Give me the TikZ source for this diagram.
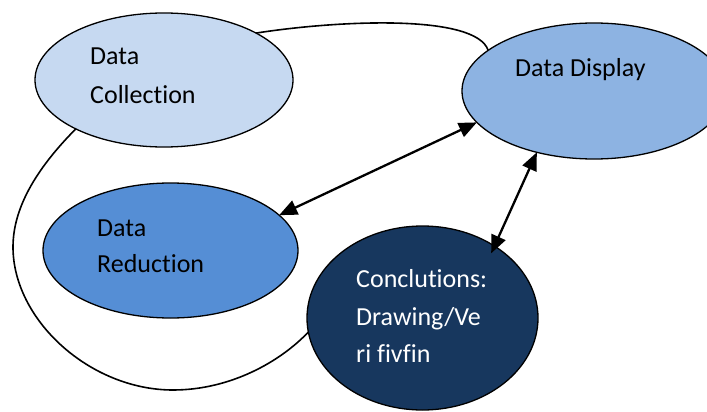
\documentclass[tikz,border=0pt]{standalone}
\usepackage{fontspec}
\setmainfont{Carlito}[Ligatures=NoCommon]
\usetikzlibrary{shapes.geometric,arrows.meta}

\definecolor{collectfill}{HTML}{C6D9F1}
\definecolor{displayfill}{HTML}{8DB3E2}
\definecolor{reducefill}{HTML}{558ED5}
\definecolor{concludefill}{HTML}{17375E}

\tikzset{
  stage/.style={ellipse, draw=black, line width=1.3pt, inner sep=0pt, outer sep=0pt},
  label text/.style={anchor=base west, inner sep=0pt, font=\fontsize{26}{30}\selectfont},
  loop line/.style={line width=1.6pt, black},
  both ways/.style={line width=2.3pt, black, {Triangle[length=18pt,width=15pt]}-{Triangle[length=18pt,width=15pt]}}
}

\begin{document}
\begin{tikzpicture}[x=1pt, y=-1pt]
\useasboundingbox (0,0) rectangle (707,412);
\clip (0,0) rectangle (707,412);

% the four stages
\node[stage, fill=collectfill, minimum width=258pt, minimum height=134pt] (collect) at (164,80) {};
\node[stage, fill=displayfill, minimum width=264pt, minimum height=136pt] (display) at (594,91) {};
\node[stage, fill=reducefill, minimum width=255pt, minimum height=135pt] (reduce) at (170.5,250.5) {};
\node[stage, fill=concludefill, minimum width=231pt, minimum height=184pt] (conclude) at (422.5,318) {};

% stage captions
\node[label text] (collectA) at (90,65) {Data};
\node[label text] (collectB) at (90,103) {Collection};
\node[label text] (displayA) at (515,77) {Data Display};
\node[label text] (reduceA) at (97,236) {Data};
\node[label text] (reduceB) at (97,272) {Reduction};
\node[label text, text=white] (concludeA) at (356,287) {Conclutions:};
\node[label text, text=white] (concludeB) at (356,325) {Drawing/Ve};
\node[label text, text=white] (concludeC) at (356,362) {ri fivfin};

% collection feeds display over the top
\draw[loop line] (collect.27.3) .. controls (340,20) and (476,14) .. (display.159);

% collection feeds conclusions round the left side
\draw[loop line] (collect.209.7) .. controls (40,165) and (13,205) .. (13,247)
  .. controls (13,320) and (90,390) .. (173,390)
  .. controls (230,390) and (280,362) .. (conclude.187.4);

% two-way links
\draw[both ways] (display.195.5) -- (reduce.18.6);
\draw[both ways, shorten >=-8pt] (display.227.3) -- (conclude.45.6);
\end{tikzpicture}
\end{document}
